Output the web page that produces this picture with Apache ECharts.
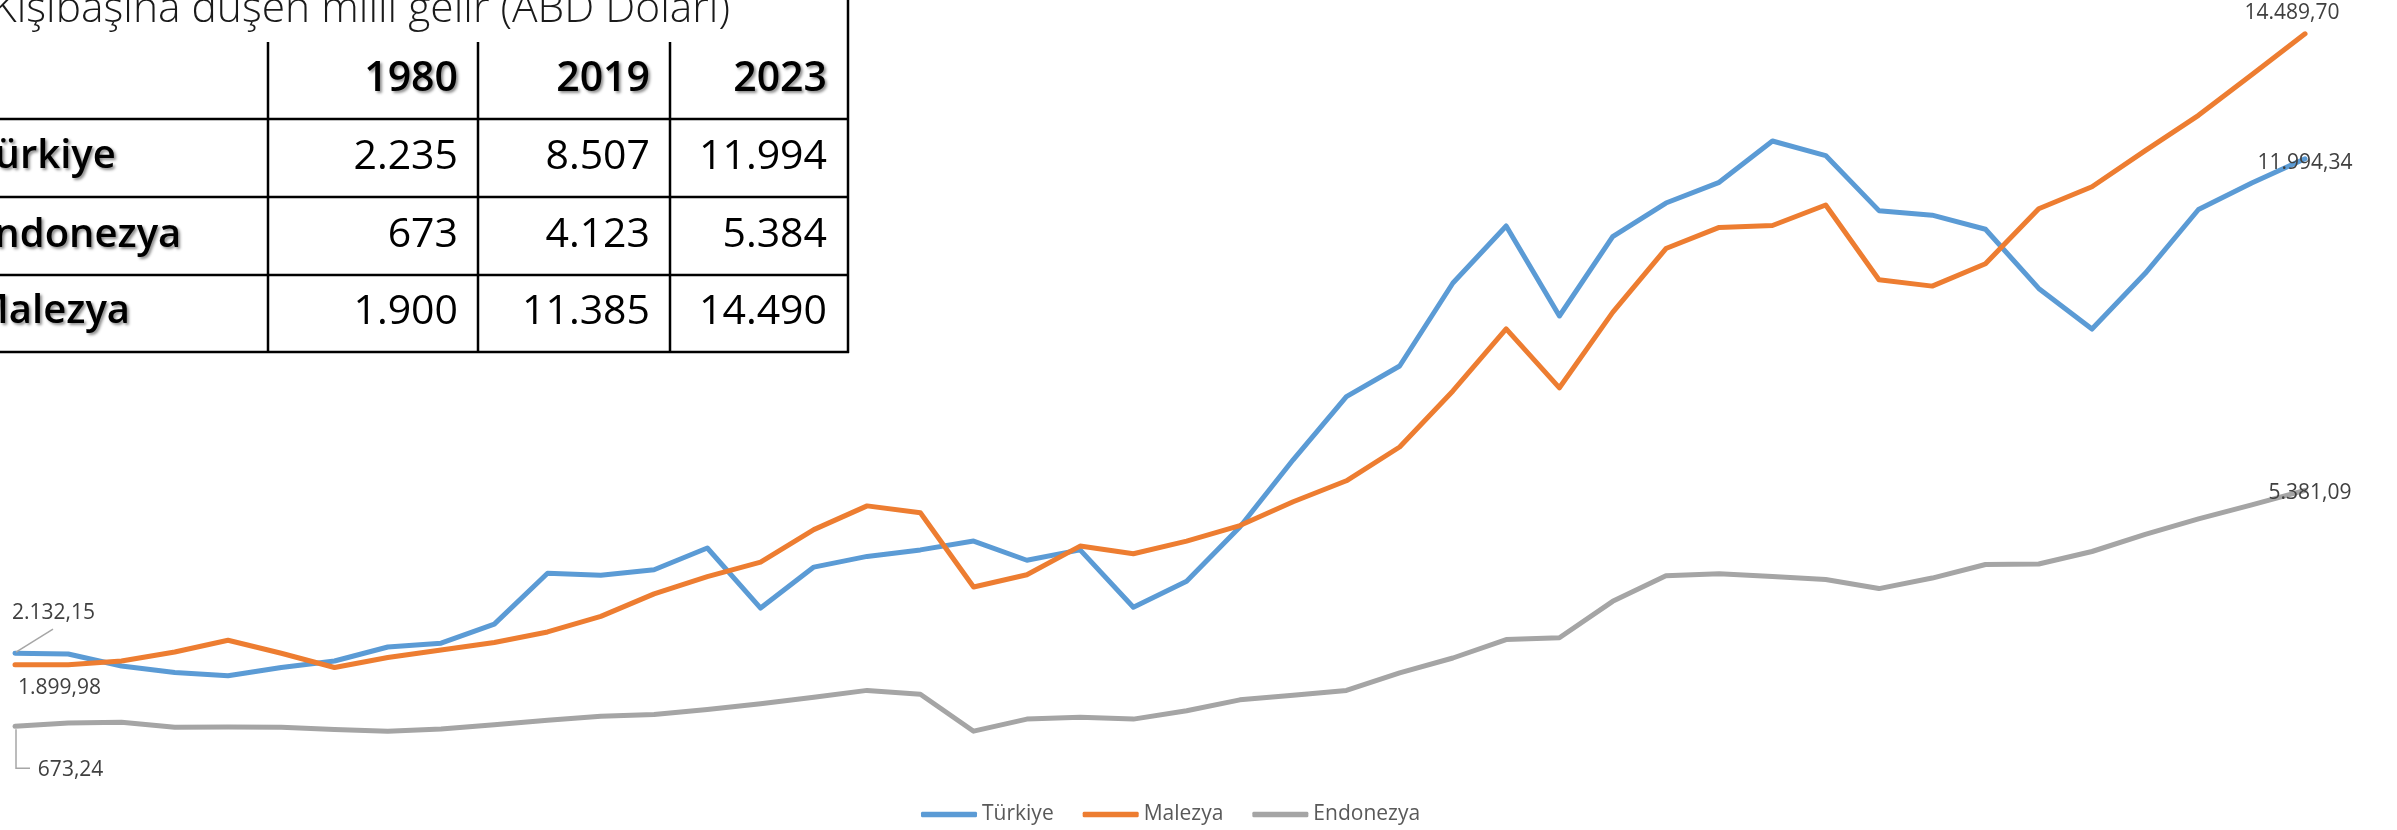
<!DOCTYPE html>
<html>
<head>
<meta charset="utf-8">
<script src="https://cdn.jsdelivr.net/npm/echarts@6/dist/echarts.min.js"></script>
<style>
  html, body { margin: 0; padding: 0; background: #ffffff; }
  #chart { width: 2397px; height: 830px; }
</style>
</head>
<body>
<div id="chart"></div>
<script>
// Years on the x axis
const years = [];
for (let y = 1980; y <= 2023; y++) years.push(String(y));

// Per-capita national income, USD
const turkiye = [
  2132.15, 2115, 1875, 1745, 1680, 1845, 1975, 2255, 2330, 2710,
  3725, 3685, 3795, 4230, 3031, 3849, 4062, 4192, 4368, 3985,
  4192, 3047, 3565, 4650, 5990, 7251, 7861, 9517, 10654, 8859,
  10443, 11113, 11526, 12350, 12059, 10961, 10870, 10590, 9409, 8598,
  9711, 10984, 11514, 11994.34
];
const malezya = [
  1899.98, 1900, 1975, 2155, 2390, 2130, 1845, 2045, 2195, 2345,
  2555, 2865, 3314, 3657, 3947, 4597, 5070, 4932, 3452, 3695,
  4268, 4116, 4368, 4677, 5152, 5571, 6245, 7364, 8601, 7426,
  8930, 10205, 10626, 10664, 11074, 9583, 9455, 9901, 10999, 11438,
  12157, 12862, 13672, 14489.70
];
const endonezya = [
  673.24, 740, 755, 655, 660, 655, 610, 575, 620, 705,
  795, 875, 908, 1008, 1122, 1251, 1389, 1313, 575, 816,
  854, 816, 984, 1200, 1290, 1387, 1738, 2035, 2402, 2440,
  3166, 3677, 3715, 3661, 3600, 3420, 3630, 3900, 3910, 4160,
  4500, 4810, 5090, 5381.09
];

const seriesNames = ['Türkiye', 'Malezya', 'Endonezya'];

// Summary table
const tableTitle = 'Kişibaşına düşen milli gelir (ABD Doları)';
const tableYears = ['1980', '2019', '2023'];
const tableCountries = ['Türkiye', 'Endonezya', 'Malezya'];
const tableTurkiye = ['2.235', '8.507', '11.994'];
const tableEndonezya = ['673', '4.123', '5.384'];
const tableMalezya = ['1.900', '11.385', '14.490'];

// ---- styling ----
const colors = ['#5B9BD5', '#ED7D31', '#A5A5A5'];
const FONT = '"Open Sans", "Noto Sans", sans-serif';
const labelOffsets = [
  { first: [38.5, -40], last: [0, 4] },     // Türkiye
  { first: [44.5, 23], last: [-13, -21] },  // Malezya
  { first: [55.6, 44], last: [5, 3] }       // Endonezya
];

function trNum(v) {
  const parts = v.toFixed(2).split('.');
  return parts[0].replace(/\B(?=(\d{3})+(?!\d))/g, '.') + ',' + parts[1];
}

function buildData(values, offs) {
  const last = values.length - 1;
  return values.map((v, i) => {
    if (i === 0 || i === last) {
      return {
        value: v,
        label: {
          show: true,
          position: 'inside',
          offset: i === 0 ? offs.first : offs.last,
          formatter: p => trNum(p.value),
          color: '#404040',
          fontFamily: FONT,
          fontSize: 21,
          align: 'center',
          verticalAlign: 'middle'
        }
      };
    }
    return v;
  });
}

const allValues = [turkiye, malezya, endonezya];
const series = seriesNames.map((name, k) => ({
  name: name,
  type: 'line',
  data: buildData(allValues[k], labelOffsets[k]),
  symbol: 'circle',
  symbolSize: 1,
  showSymbol: true,
  showAllSymbol: true,
  clip: false,
  itemStyle: { color: colors[k] },
  lineStyle: { width: 5, color: colors[k], cap: 'round', join: 'round' },
  label: { show: false },
  emphasis: { disabled: true },
  z: 2 + k
}));

// ---- table graphics ----
const LINE_W = 2.5;
const colRight = [458, 650, 827];
const vLines = [268, 478, 670];
const hLines = [119, 197, 275, 352];
const rowMid = [157, 235.5, 312];
const shadowBold = {
  textShadowColor: 'rgba(0,0,0,0.45)',
  textShadowBlur: 3,
  textShadowOffsetX: 2,
  textShadowOffsetY: 2
};

const tableGraphics = [];
tableGraphics.push({
  type: 'text', x: -8, y: 10,
  style: {
    text: tableTitle, fill: '#1a1a1a',
    font: '300 42.5px ' + FONT, textAlign: 'left', textVerticalAlign: 'middle'
  }
});
hLines.forEach(y => tableGraphics.push({
  type: 'line',
  shape: { x1: 0, y1: y, x2: 849, y2: y },
  style: { stroke: '#000', lineWidth: LINE_W }
}));
vLines.forEach(x => tableGraphics.push({
  type: 'line',
  shape: { x1: x, y1: 42, x2: x, y2: 353 },
  style: { stroke: '#000', lineWidth: LINE_W }
}));
tableGraphics.push({
  type: 'line',
  shape: { x1: 848, y1: 0, x2: 848, y2: 353 },
  style: { stroke: '#000', lineWidth: LINE_W }
});
tableYears.forEach((t, c) => tableGraphics.push({
  type: 'text', x: colRight[c], y: 79,
  style: Object.assign({
    text: t, fill: '#000', font: '600 41px ' + FONT,
    textAlign: 'right', textVerticalAlign: 'middle'
  }, shadowBold)
}));
const tableRows = [tableTurkiye, tableEndonezya, tableMalezya];
tableCountries.forEach((name, r) => {
  tableGraphics.push({
    type: 'text', x: -28, y: rowMid[r],
    style: Object.assign({
      text: name, fill: '#000', font: '600 40px ' + FONT,
      textAlign: 'left', textVerticalAlign: 'middle'
    }, shadowBold)
  });
  tableRows[r].forEach((val, c) => tableGraphics.push({
    type: 'text', x: colRight[c], y: rowMid[r],
    style: {
      text: val, fill: '#000', font: '41px ' + FONT,
      textAlign: 'right', textVerticalAlign: 'middle'
    }
  }));
});

const chart = echarts.init(document.getElementById('chart'), null, { renderer: 'canvas' });
chart.setOption({
  animation: false,
  backgroundColor: '#ffffff',
  grid: { left: 15, right: 92, top: 8.2, bottom: 70, containLabel: false },
  xAxis: {
    type: 'category', data: years, boundaryGap: false, show: false
  },
  yAxis: {
    type: 'value', min: 0, max: 15000, show: false
  },
  legend: {
    data: seriesNames,
    left: 916,
    top: 799,
    icon: 'roundRect',
    itemWidth: 56,
    itemHeight: 5.5,
    itemGap: 29,
    textStyle: { color: '#595959', fontSize: 21, fontFamily: FONT },
    selectedMode: false
  },
  series: series,
  graphic: { elements: tableGraphics }
});

// Leader lines for the first-year labels, anchored through the axis scales
const pT = chart.convertToPixel({ seriesIndex: 0 }, [0, turkiye[0]]);
const pE = chart.convertToPixel({ seriesIndex: 2 }, [0, endonezya[0]]);
const leaders = [
  {
    type: 'polyline', z: 10,
    shape: { points: [[pT[0] + 1, pT[1] - 1], [pT[0] + 38, pT[1] - 24]] },
    style: { stroke: '#A6A6A6', lineWidth: 1.5, fill: null }
  },
  {
    type: 'polyline', z: 10,
    shape: { points: [[pE[0] + 1, pE[1] + 3], [pE[0] + 1, pE[1] + 42], [pE[0] + 15, pE[1] + 42]] },
    style: { stroke: '#A6A6A6', lineWidth: 1.5, fill: null }
  }
];
chart.setOption({ graphic: { elements: tableGraphics.concat(leaders) } });
</script>
</body>
</html>
